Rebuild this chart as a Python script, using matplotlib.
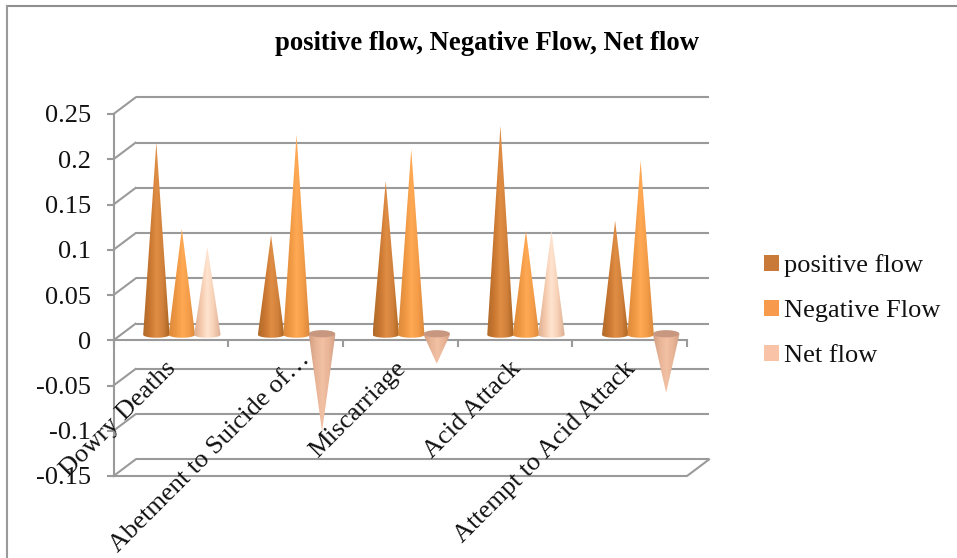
import numpy as np
import matplotlib
matplotlib.use('Agg')
import matplotlib.pyplot as plt
from matplotlib.colors import LinearSegmentedColormap
from matplotlib.lines import Line2D
from matplotlib.patches import Polygon, Patch

plt.rcParams['font.family'] = ['Liberation Serif', 'DejaVu Serif']

categories = ['Dowry Deaths', 'Abetment to Suicide of…', 'Miscarriage', 'Acid Attack', 'Attempt to Acid Attack']
positive_flow = [0.2125, 0.11, 0.17, 0.231, 0.126]
negative_flow = [0.117, 0.221, 0.205, 0.115, 0.1925]
net_flow = [0.097, -0.107, -0.032, 0.115, -0.064]
series_names = ['positive flow', 'Negative Flow', 'Net flow']
y_ticks = [-0.15, -0.1, -0.05, 0, 0.05, 0.1, 0.15, 0.2, 0.25]
y_labels = ['-0.15', '-0.1', '-0.05', '0', '0.05', '0.1', '0.15', '0.2', '0.25']

W, H = 957, 558
GRAY = '#9a9a9a'
FS = 19

# 114.7 px per category, 904 px per unit of value
DX = 22 / 114.7   # wall depth
DY = 16.5 / 904
BASE_Y = 5.5 / 904
CONE_HW = 13.2 / 114.7
ELL_H = 3 / 904
STEP = 25.5 / 114.7

fig = plt.figure(figsize=(W / 100, H / 100), dpi=100)
ax = fig.add_axes([113.5 / W, 1 - 476 / H, (687 - 113.5) / W, (476 - 114) / H])
ax.set_facecolor('none')
ax.set_xlim(0, 5)
ax.set_ylim(-0.15, 0.25)

# outer frame of the picture
fig.add_artist(Line2D([7.5 / W, 1], [1 - 5.5 / H, 1 - 5.5 / H], color='#8f8f8f', lw=1.5))
fig.add_artist(Line2D([7.5 / W, 7.5 / W], [1 - 5.5 / H, 0], color='#9a9a9a', lw=1.5))

# walls
for v in y_ticks:
    ax.plot([DX, 5 + DX], [v + DY, v + DY], color=GRAY, lw=1.5, clip_on=False, zorder=1, solid_capstyle='butt')
    ax.plot([0, DX], [v, v + DY], color=GRAY, lw=1.5, clip_on=False, zorder=1)
ax.plot([0, 5, 5 + DX], [-0.15, -0.15, -0.15 + DY], color=GRAY, lw=1.5, clip_on=False, zorder=1)

for s in ['top', 'right']:
    ax.spines[s].set_visible(False)
ax.spines['bottom'].set_position(('data', 0))
for s in ['left', 'bottom']:
    ax.spines[s].set_color(GRAY)
    ax.spines[s].set_linewidth(1.5)
    ax.spines[s].set_zorder(2)

ax.set_xticks(range(6))
ax.set_xticklabels([])
ax.tick_params(axis='x', color=GRAY, width=1.5, length=5, direction='out')
ax.set_yticks(y_ticks)
ax.set_yticklabels(y_labels, fontsize=FS, color='#111111')
ax.tick_params(axis='y', color=GRAY, width=1.5, length=5, pad=11)

# shading left edge -> centre -> right edge
cmaps = [
    LinearSegmentedColormap.from_list('pos', ['#b06a2a', '#c87630', '#e08e45', '#d0803a', '#a8621f']),
    LinearSegmentedColormap.from_list('neg', ['#dc8a3a', '#ee9642', '#ffaa55', '#f49c48', '#d8873a']),
    LinearSegmentedColormap.from_list('net', ['#dcae92', '#f4c8aa', '#ffe4d0', '#f6cfb4', '#dcae92']),
]
cmap_net_down = LinearSegmentedColormap.from_list('netd', ['#d4a084', '#e8b496', '#f2c0a4', '#e8b496', '#d4a084'])
grad = np.linspace(0, 1, 64).reshape(1, -1)
t = np.linspace(0, np.pi, 30)


def draw_cone(xc, value, cmap, order):
    # value sets the tip height, base sits at mid depth of the floor
    base = BASE_Y
    tip = base + value
    x_ell = xc + CONE_HW * np.cos(t)
    if value >= 0:
        y_ell = base - ELL_H * np.sin(t)
        extent = [xc - CONE_HW, xc + CONE_HW, base - ELL_H, tip]
    else:
        y_ell = base + ELL_H * np.sin(t)
        extent = [xc - CONE_HW, xc + CONE_HW, tip, base + ELL_H]
    pts = np.column_stack([np.r_[x_ell, xc], np.r_[y_ell, tip]])
    im = ax.imshow(grad, cmap=cmap, extent=extent, aspect='auto', zorder=order, interpolation='bilinear')
    poly = Polygon(pts, closed=True, transform=ax.transData, facecolor='none', edgecolor='none')
    ax.add_patch(poly)
    im.set_clip_path(poly)
    if value < 0:
        # open top of the downward cone
        full = np.linspace(0, 2 * np.pi, 60)
        ax.fill(xc + CONE_HW * np.cos(full), base + 1.0 / 904 + ELL_H * 1.2 * np.sin(full), color='#c7987f',
                zorder=order + 0.1, lw=0)


for i in range(len(categories)):
    xc = i + 0.5 + DX / 2
    for j, vals in enumerate([positive_flow, negative_flow, net_flow]):
        cm = cmaps[j]
        if j == 2 and vals[i] < 0:
            cm = cmap_net_down
        draw_cone(xc + (j - 1) * STEP, vals[i], cm, 3 + j * 0.2)

ax.set_xlim(0, 5)
ax.set_ylim(-0.15, 0.25)

# category labels run up to just below the zero line
for i, label in enumerate(categories):
    shift = (21, -16) if label.endswith('…') else (2, -25)
    ax.annotate(label, xy=(i + 0.5, 0), xytext=(shift[0] * 0.72, shift[1] * 0.72), textcoords='offset points',
                rotation=45, rotation_mode='anchor', ha='right', va='center', fontsize=FS,
                color='#111111', zorder=2.5, annotation_clip=False)

fig.text(487 / W, 1 - 43 / H, 'positive flow, Negative Flow, Net flow', ha='center', va='center',
         fontsize=19.2, fontweight='bold', color='black')

handles = [Patch(facecolor=c, edgecolor='none') for c in ['#c97a38', '#f79a4c', '#f9c3a8']]
fig.legend(handles, series_names, loc='upper left', bbox_to_anchor=(764 / W, 1 - 254 / H), frameon=False,
           fontsize=FS, handlelength=0.55, handleheight=0.55, handletextpad=0.2, labelspacing=0.87,
           labelcolor='#111111', borderpad=0, borderaxespad=0)

fig.savefig('out.png', dpi=100)
